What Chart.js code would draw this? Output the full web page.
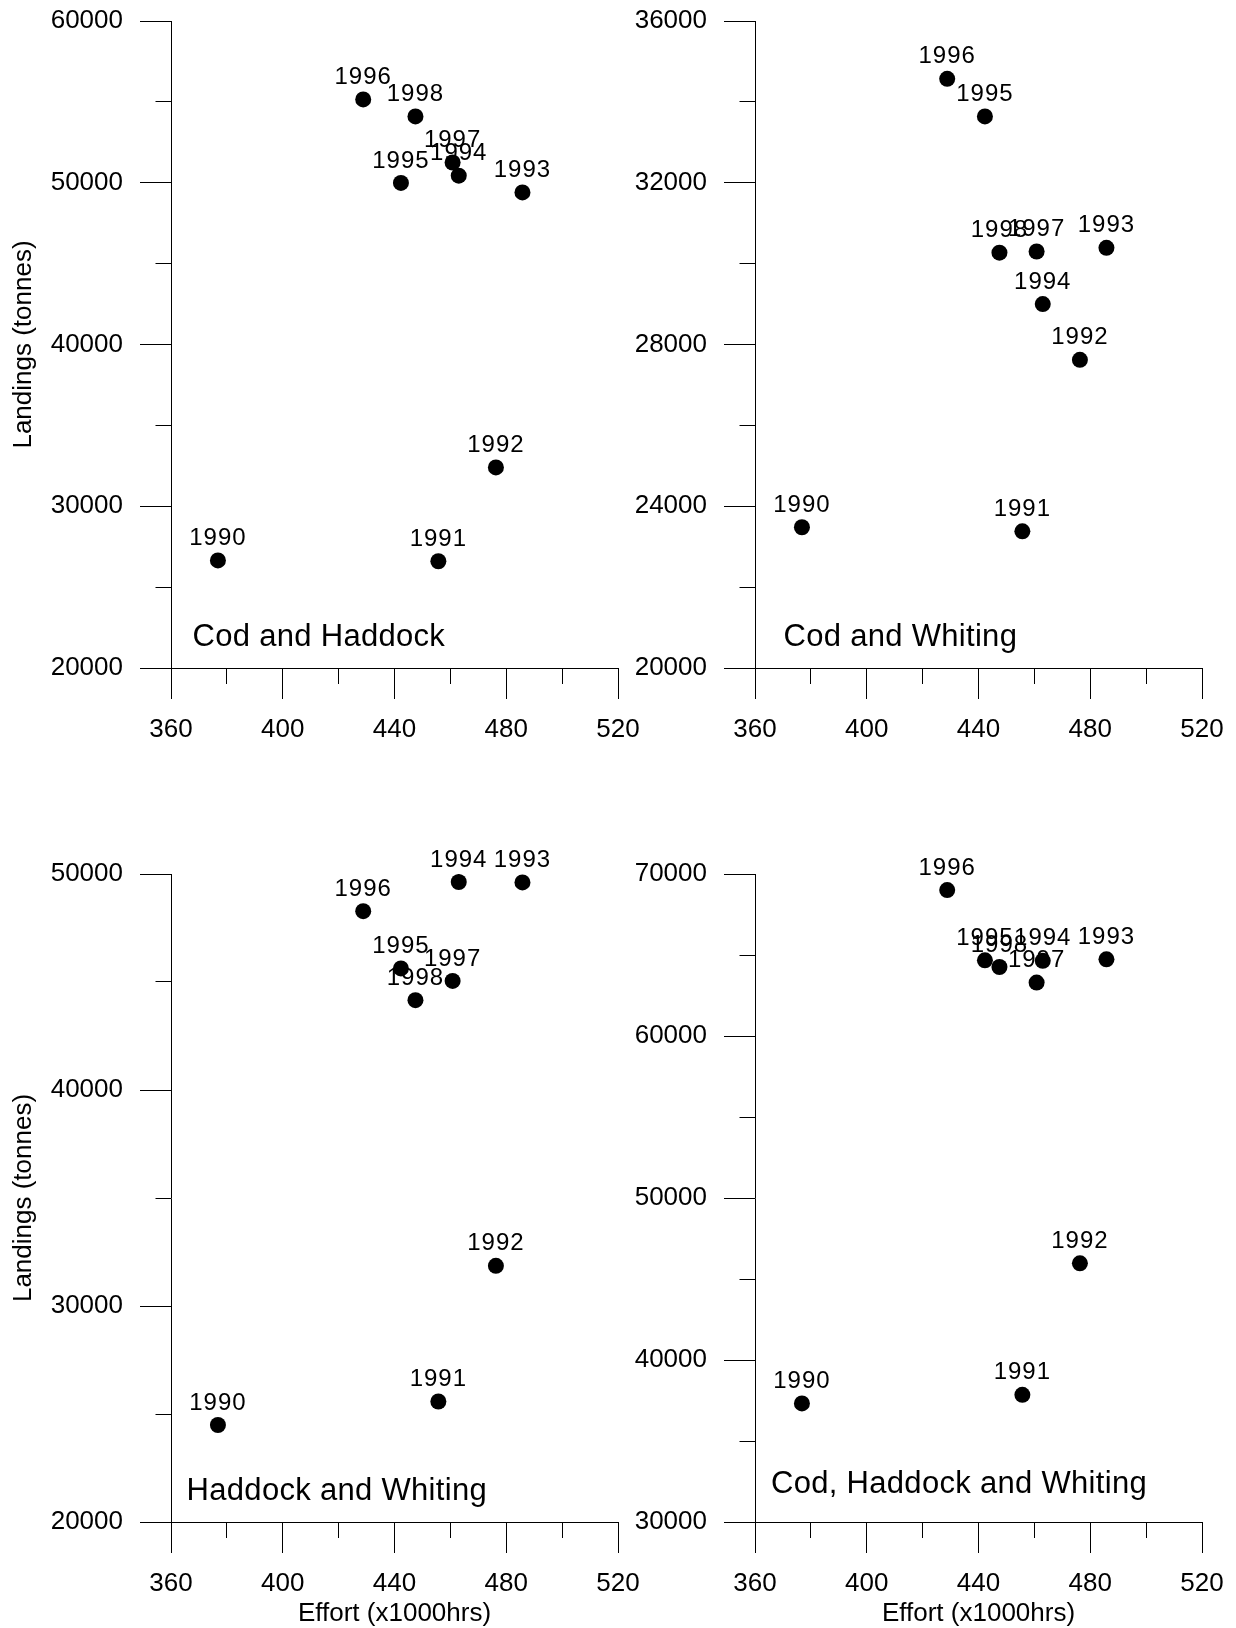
<!DOCTYPE html>
<html>
<head>
<meta charset="utf-8">
<script src="https://cdn.jsdelivr.net/npm/chart.js@4.4.1/dist/chart.umd.min.js"></script>
<style>
  html, body { margin: 0; padding: 0; background: #fff; }
  #page { position: relative; width: 1236px; height: 1628px; overflow: hidden; }
  .panel { position: absolute; }
</style>
</head>
<body>
<div id="page">
  <div class="panel" style="left:0;top:0;width:650px;height:760px"><canvas id="chCH"></canvas></div>
  <div class="panel" style="left:620px;top:0;width:616px;height:760px"><canvas id="chCW"></canvas></div>
  <div class="panel" style="left:0;top:800px;width:650px;height:828px"><canvas id="chHW"></canvas></div>
  <div class="panel" style="left:620px;top:800px;width:616px;height:828px"><canvas id="chCHW"></canvas></div>
</div>
<script>
// values
const years = [1990, 1991, 1992, 1993, 1994, 1995, 1996, 1997, 1998];
const effort = [376.8, 455.7, 476.3, 485.8, 463.0, 442.3, 428.8, 460.8, 447.5];

const codHaddock = [26650, 26600, 32400, 49400, 50440, 49990, 55150, 51250, 54100];
const codWhiting = [23480, 23380, 27620, 30390, 29000, 33640, 34570, 30300, 30270];
const haddockWhiting = [24490, 25580, 31860, 49610, 49630, 45630, 48280, 45050, 44160];
const codHaddockWhiting = [37320, 37850, 45970, 64730, 64640, 64670, 69010, 63300, 64260];

const xRange = [360, 520];
const xStep = 40;

const FONT = '"Liberation Sans", Arial, sans-serif';
Chart.defaults.font.family = FONT;
Chart.defaults.font.size = 26;
Chart.defaults.color = "#000";

const yearLabels = {
  id: "yearLabels",
  afterDatasetsDraw(chart) {
    const ctx = chart.ctx;
    ctx.save();
    ctx.font = `24px ${FONT}`;
    ctx.letterSpacing = "1px";
    ctx.fillStyle = "#000";
    ctx.textAlign = "center";
    ctx.textBaseline = "middle";
    chart.getDatasetMeta(0).data.forEach((pt, i) => {
      ctx.fillText(String(years[i]), pt.x, pt.y - 22);
    });
    ctx.restore();
  }
};

const panelName = {
  id: "panelName",
  afterDraw(chart, args, opts) {
    const ctx = chart.ctx;
    const { left, bottom } = chart.chartArea;
    ctx.save();
    ctx.font = `31px ${FONT}`;
    ctx.letterSpacing = "0.3px";
    ctx.fillStyle = "#000";
    ctx.textAlign = "left";
    ctx.textBaseline = "middle";
    ctx.fillText(opts.text, left + opts.dx, bottom - opts.dy);
    ctx.restore();
  }
};

// fixed box sizes, and no extra label padding pushed into the layout
function fixX(h) {
  return s => { s.height = h; s.paddingLeft = 0; s.paddingRight = 0; };
}
function fixY(w) {
  return s => { s.width = w; s.paddingTop = 0; s.paddingBottom = 0; };
}

function buildPanel(canvasId, p) {
  return new Chart(document.getElementById(canvasId), {
    type: "scatter",
    data: {
      datasets: [{
        data: effort.map((x, i) => ({ x, y: p.values[i] })),
        pointRadius: 8,
        pointHoverRadius: 8,
        pointBackgroundColor: "#000",
        pointBorderWidth: 0
      }]
    },
    options: {
      responsive: true,
      maintainAspectRatio: false,
      animation: false,
      events: [],
      layout: { autoPadding: false, padding: p.padding },
      plugins: {
        legend: { display: false },
        tooltip: { enabled: false },
        panelName: { text: p.name, dx: p.nameDx, dy: p.nameDy }
      },
      scales: {
        x: {
          type: "linear", position: "bottom", weight: 10,
          min: xRange[0], max: xRange[1],
          ticks: { stepSize: xStep, padding: 15.5, maxRotation: 0, autoSkip: false, callback: v => String(v) },
          grid: { drawOnChartArea: false, tickLength: 31, color: "#000" },
          border: { color: "#000", width: 1 },
          title: { display: p.xTitle, text: "Effort (x1000hrs)", font: { size: 26, lineHeight: 1.1 }, padding: { top: 0, bottom: 0 } },
          afterFit: fixX(p.xHeight)
        },
        xMinor: {
          type: "linear", position: "bottom", weight: 0,
          min: xRange[0], max: xRange[1],
          ticks: { display: false, stepSize: xStep / 2 },
          grid: { drawOnChartArea: false, tickLength: 16, color: "#000" },
          border: { display: false },
          afterFit: fixX(0)
        },
        y: {
          type: "linear", position: "left", weight: 10,
          min: p.yMin, max: p.yMax,
          ticks: { stepSize: p.yStep, padding: 17, callback: v => String(v) },
          grid: { drawOnChartArea: false, tickLength: 31, color: "#000" },
          border: { color: "#000", width: 1 },
          title: { display: p.yTitle, text: "Landings (tonnes)", font: { size: 26 }, padding: { top: 8, bottom: 0 } },
          afterFit: fixY(p.yWidth)
        },
        yMinor: {
          type: "linear", position: "left", weight: 0,
          min: p.yMin, max: p.yMax,
          ticks: { display: false, stepSize: p.yStep / 2 },
          grid: { drawOnChartArea: false, tickLength: 15.5, color: "#000" },
          border: { display: false },
          afterFit: fixY(0)
        }
      }
    },
    plugins: [yearLabels, panelName]
  });
}

buildPanel("chCH", {
  values: codHaddock, name: "Cod and Haddock", nameDx: 21.5, nameDy: 30.6,
  yMin: 20000, yMax: 60000, yStep: 10000,
  padding: { left: 0, top: 21, right: 32, bottom: 0 },
  yWidth: 171, xHeight: 92, yTitle: true, xTitle: false
});
buildPanel("chCW", {
  values: codWhiting, name: "Cod and Whiting", nameDx: 28.5, nameDy: 31,
  yMin: 20000, yMax: 36000, yStep: 4000,
  padding: { left: 0, top: 21, right: 34, bottom: 0 },
  yWidth: 135, xHeight: 92, yTitle: false, xTitle: false
});
buildPanel("chHW", {
  values: haddockWhiting, name: "Haddock and Whiting", nameDx: 15.6, nameDy: 30.4,
  yMin: 20000, yMax: 50000, yStep: 10000,
  padding: { left: 0, top: 74, right: 32, bottom: 0 },
  yWidth: 171, xHeight: 106, yTitle: true, xTitle: true
});
buildPanel("chCHW", {
  values: codHaddockWhiting, name: "Cod, Haddock and Whiting", nameDx: 16, nameDy: 37.7,
  yMin: 30000, yMax: 70000, yStep: 10000,
  padding: { left: 0, top: 74, right: 34, bottom: 0 },
  yWidth: 135, xHeight: 106, yTitle: false, xTitle: true
});
</script>
</body>
</html>
